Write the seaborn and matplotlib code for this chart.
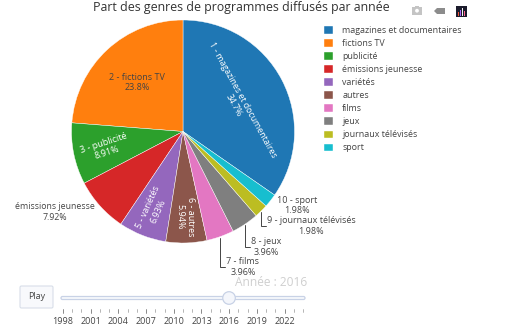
import matplotlib
matplotlib.use("Agg")
import matplotlib.pyplot as plt
from matplotlib.patches import Rectangle, FancyBboxPatch, Circle, Polygon
import seaborn as sns

genres = ["magazines et documentaires", "fictions TV", "publicité", "émissions jeunesse",
          "variétés", "autres", "films", "jeux", "journaux télévisés", "sport"]
values = [35, 24, 9, 8, 7, 6, 4, 4, 2, 2]
percents = ["34.7%", "23.8%", "8.91%", "7.92%", "6.93%", "5.94%", "3.96%", "3.96%", "1.98%", "1.98%"]
years = list(range(1998, 2025))
year_labels = list(range(1998, 2023, 3))
current_year = 2016

sns.set_theme(style="white")
plt.rcParams["font.family"] = ["Open Sans", "DejaVu Sans"]
palette = sns.color_palette("tab10", len(values))
W, H = 512, 332
INK = "#444444"
fig = plt.figure(figsize=(W / 100, H / 100), dpi=100, facecolor="white")

# pie: first slice ends at twelve o'clock, the others follow counter-clockwise
cx, cy, r = 183, 131.5, 111.5
ax = fig.add_axes([(cx - r) / W, 1 - (cy + r) / H, 2 * r / W, 2 * r / H])
start = 90 - 360 * values[0] / sum(values)
wedges, _ = ax.pie(values, colors=palette, startangle=start, counterclock=True, radius=1,
                   wedgeprops=dict(edgecolor="white", linewidth=0.3))
ax.set_xlim(-1, 1)
ax.set_ylim(-1, 1)

# pixel overlay
ov = fig.add_axes([0, 0, 1, 1], zorder=5)
ov.set_xlim(0, W)
ov.set_ylim(H, 0)
ov.axis("off")
ov.patch.set_alpha(0)

ov.text(241.5, 7, "Part des genres de programmes diffusés par année", ha="center", va="center",
        fontsize=8.9, color="#333333")

# inside labels
def lab(i, x, y, rot, color="white", size=6.5):
    ov.text(x, y, f"{i + 1} - {genres[i]}\n{percents[i]}", ha="center", va="center", rotation=rot,
            rotation_mode="anchor", multialignment="center", fontsize=size, color=color, linespacing=1.25)

lab(0, 238, 102.5, -61, size=6.3)
lab(1, 137, 82.5, 0, INK)
lab(2, 105.5, 148, 18)
lab(4, 153, 209.5, 66)
lab(5, 185, 217, -90)

# outside labels
for i, x, y in [(9, 297, 205.5), (8, 311, 226), (7, 266, 247), (6, 243, 267)]:
    ov.text(x, y, f"{i + 1} - {genres[i]}\n{percents[i]}", ha="center", va="center",
            fontsize=6.5, color=INK, linespacing=1.25)
ov.text(54.5, 212, f"{genres[3]}\n{percents[3]}", ha="center", va="center", fontsize=6.3,
        color=INK, linespacing=1.25)
for x, y0, y1, x1 in [(261, 212, 226, 266), (245, 225, 247, 250), (220, 238, 267, 225)]:
    ov.plot([x, x, x1], [y0, y1, y1], color=INK, lw=0.7, solid_joinstyle="miter")

# legend
leg = ov.legend(wedges, genres, loc="upper left", bbox_to_anchor=(324 / W, 1 - 26 / H),
                frameon=False, fontsize=6.4, labelcolor=INK, handlelength=1.03, handleheight=0.93,
                handletextpad=1.03, labelspacing=0.455, borderaxespad=0, borderpad=0)

# play button and slider
ov.add_patch(FancyBboxPatch((20, 286), 33, 22, boxstyle="round,pad=0,rounding_size=1.5",
                            fc="#f8f9fc", ec="#d8dee9", lw=0.8))
ov.text(36.5, 296.5, "Play", ha="center", va="center", fontsize=6.4, color=INK)
ov.add_patch(FancyBboxPatch((61, 296.5), 244, 3, boxstyle="round,pad=0,rounding_size=1.5",
                            fc="#f8f9fc", ec="#c8d2e6", lw=0.9))
def xpos(y):
    return 63 + (y - years[0]) * 9.23
for y in years:
    major = y in year_labels
    ov.plot([xpos(y)] * 2, [309, 313 if major else 311.5], color="#333333", lw=0.5, alpha=0.8 if major else 0.5)
for y in year_labels:
    ov.text(xpos(y), 322, str(y), ha="center", va="center", fontsize=6.5, color=INK)
ov.add_patch(Circle((xpos(current_year) - 0.1, 298), 6.3, fc="#f4f6fb", ec="#c8d2e6", lw=0.9, zorder=6))
ov.text(271, 282, f"Année : {current_year}", ha="center", va="center", fontsize=8.6, color="#cfcfcf", zorder=7)

# mode bar
ov.add_patch(Rectangle((412, 7), 10, 7.5, fc="#c4c4c4", ec="none"))
ov.add_patch(Rectangle((415, 5.5), 4, 2, fc="#c4c4c4", ec="none"))
ov.add_patch(Circle((417, 10.7), 1.9, fc="white", ec="none"))
ov.add_patch(Polygon([(434, 11), (437, 8), (445, 8), (445, 14), (437, 14)], fc="#8c8c8c", ec="none"))
ov.add_patch(Rectangle((456, 6), 10.5, 10.5, fc="#1c1c2c", ec="none"))
for i, (x, h, c) in enumerate([(457.5, 4, "#ef553b"), (459.5, 6, "#ab63fa"), (461.5, 8, "#f5f5f5"), (463.5, 5, "#ff6692")]):
    ov.add_patch(Rectangle((x, 15.5 - h), 1.2, h, fc=c, ec="none"))

fig.savefig("out.png", dpi=100, facecolor="white")
